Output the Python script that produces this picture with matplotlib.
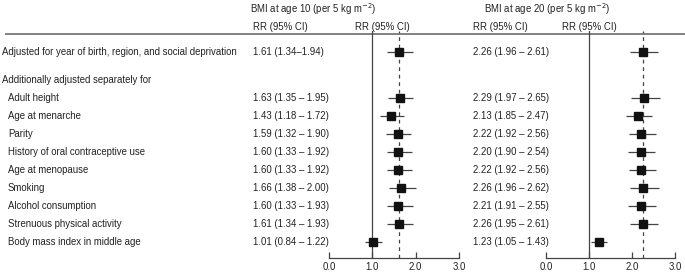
import matplotlib
matplotlib.use("Agg")
import matplotlib.pyplot as plt

plt.rcParams['font.family'] = ['Liberation Sans', 'DejaVu Sans']

labels = ["Adjusted for year of birth, region, and social deprivation",
          "Adult height", "Age at menarche", "Parity",
          "History of oral contraceptive use", "Age at menopause", "Smoking",
          "Alcohol consumption", "Strenuous physical activity",
          "Body mass index in middle age"]
subheader = "Additionally adjusted separately for"

rr10 = [1.61, 1.63, 1.43, 1.59, 1.60, 1.60, 1.66, 1.60, 1.61, 1.01]
lo10 = [1.34, 1.35, 1.18, 1.32, 1.33, 1.33, 1.38, 1.33, 1.34, 0.84]
hi10 = [1.94, 1.95, 1.72, 1.90, 1.92, 1.92, 2.00, 1.93, 1.93, 1.22]

rr20 = [2.26, 2.29, 2.13, 2.22, 2.20, 2.22, 2.26, 2.21, 2.26, 1.23]
lo20 = [1.96, 1.97, 1.85, 1.92, 1.90, 1.92, 1.96, 1.91, 1.95, 1.05]
hi20 = [2.61, 2.65, 2.47, 2.56, 2.54, 2.56, 2.62, 2.55, 2.61, 1.43]

titles = ["BMI at age 10 (per 5 kg m$^{-2}$)", "BMI at age 20 (per 5 kg m$^{-2}$)"]
col_head = "RR (95% CI)"
ticks = [0.0, 1.0, 2.0, 3.0]

W, H = 685, 274
fig = plt.figure(figsize=(W / 100, H / 100), dpi=100)
tax = fig.add_axes([0, 0, 1, 1])
tax.set_xlim(0, W)
tax.set_ylim(H, 0)
tax.axis('off')

FS = 6.9
TC = '#222222'

row_y = [52] + [98 + 18 * k for k in range(9)]
sub_y = 80
line_y = 34
axis_y = 258

tax.plot([5, W], [line_y, line_y], color='#777777', lw=1.3, solid_capstyle='butt')

for i, lab in enumerate(labels):
    x = 2 if i == 0 else 8
    tax.text(x, row_y[i], lab, fontsize=FS, va='center', ha='left', color=TC)
tax.text(2, sub_y, subheader, fontsize=FS, va='center', ha='left', color=TC)

panels = [
    dict(rr=rr10, lo=lo10, hi=hi10, title=titles[0], tx=250, c1=253, c2=355, ax0=329, ax1=459, tight0=True),
    dict(rr=rr20, lo=lo20, hi=hi20, title=titles[1], tx=484, c1=473, c2=562, ax0=546, ax1=675, tight0=False),
]

sizes = [6.3, 6.4, 5.6, 6.0, 6.0, 6.0, 6.4, 6.0, 6.3, 5.4]

for p in panels:
    tax.text(p['tx'], 9, p['title'], fontsize=FS, va='center', ha='left', color=TC)
    tax.text(p['c1'], 27, col_head, fontsize=FS, va='center', ha='left', color=TC)
    tax.text(p['c2'], 27, col_head, fontsize=FS, va='center', ha='left', color=TC)
    for i in range(len(p['rr'])):
        sep = "\u2013" if (i == 0 and p['tight0']) else " \u2013 "
        s = f"{p['rr'][i]:.2f} ({p['lo'][i]:.2f}{sep}{p['hi'][i]:.2f})"
        tax.text(p['c1'], row_y[i], s, fontsize=FS, va='center', ha='left', color=TC)

    left = p['ax0'] / W
    width = (p['ax1'] - p['ax0']) / W
    bottom = (H - axis_y) / H
    height = (axis_y - 31) / H
    ax = fig.add_axes([left, bottom, width, height])
    ax.patch.set_alpha(0)
    ax.set_xlim(ticks[0], ticks[-1])
    ax.set_ylim(axis_y, 31)
    for sp in ['top', 'right', 'left']:
        ax.spines[sp].set_visible(False)
    ax.spines['bottom'].set_color('#444444')
    ax.spines['bottom'].set_linewidth(0.9)
    ax.set_yticks([])
    ax.set_xticks(ticks)
    ax.set_xticklabels([f"{t:.1f}" for t in ticks], fontsize=FS, color=TC)
    ax.tick_params(axis='x', direction='in', length=4, width=0.9, color='#444444', pad=3)
    ax.axvline(1.0, color='#444444', lw=0.9)
    ax.axvline(p['rr'][0], ymin=0, ymax=1, color='#444444', lw=0.9, ls=(0, (3, 3)))
    ax.hlines(row_y, p['lo'], p['hi'], color='#444444', lw=0.9)
    for i in range(len(p['rr'])):
        ax.plot(p['rr'][i], row_y[i], marker='s', ms=sizes[i], color='#111111', mec='#111111', zorder=3)

fig.savefig('out.png', dpi=100)
